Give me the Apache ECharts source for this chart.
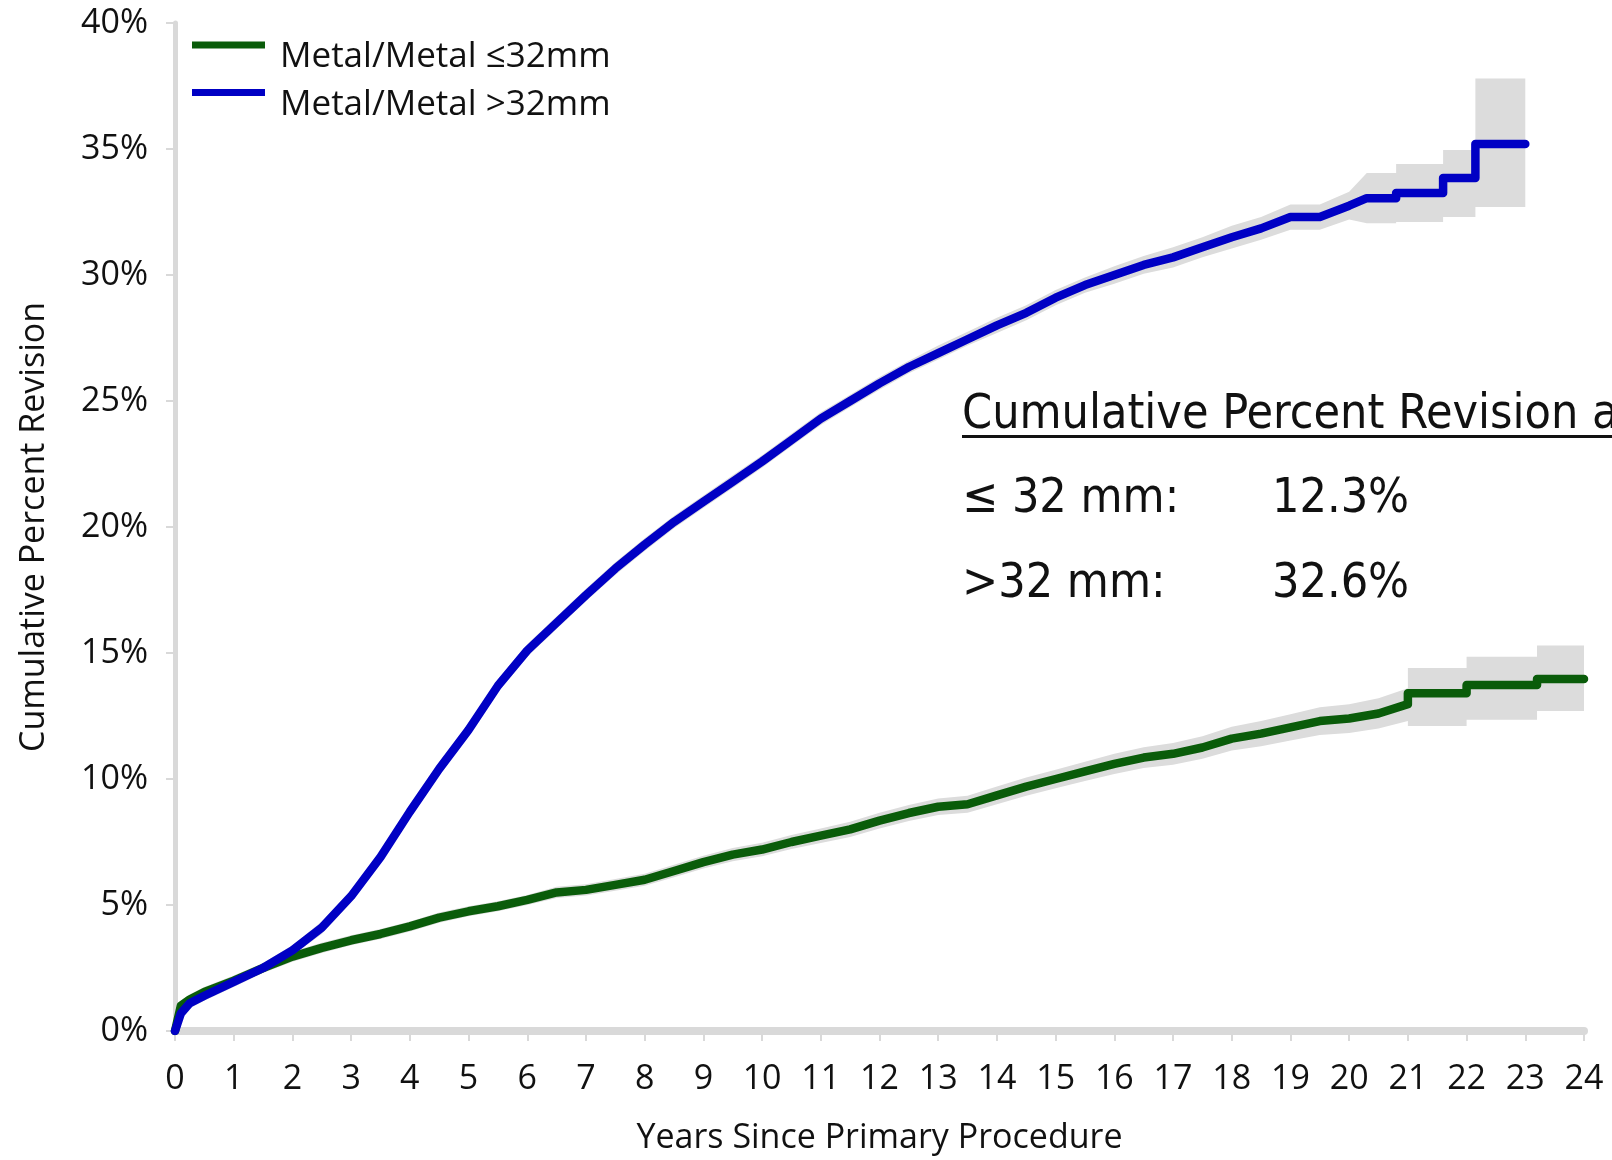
<!DOCTYPE html>
<html>
<head>
<meta charset="utf-8">
<script src="https://cdn.jsdelivr.net/npm/echarts@6/dist/echarts.min.js"></script>
<style>html,body{margin:0;padding:0;background:#fff}#c{width:1612px;height:1160px}</style>
</head>
<body>
<div id="c"></div>
<script>
// ---- data ----
const xTicks = [0,1,2,3,4,5,6,7,8,9,10,11,12,13,14,15,16,17,18,19,20,21,22,23,24];
const yTicks = [0,5,10,15,20,25,30,35,40];
const seriesNames = ['Metal/Metal \u226432mm', 'Metal/Metal >32mm'];

// Metal/Metal <=32mm : years, cumulative percent revision, 95% CI lower, upper
const smallYears = [0,0.1,0.25,0.5,1,1.5,2,2.5,3,3.5,4,4.5,5,5.5,6,6.5,7,7.5,8,8.5,9,9.5,10,10.5,11,11.5,12,12.5,13,13.5,14,14.5,15,15.5,16,16.5,17,17.5,18,18.5,19,19.5,20,20.5,21.0,21.0,22.0,22.0,23.2,23.2,24.0];
const smallCPR   = [0,1.0,1.25,1.55,2.0,2.5,2.95,3.3,3.6,3.85,4.15,4.5,4.75,4.95,5.2,5.5,5.6,5.8,6.0,6.35,6.7,7.0,7.2,7.5,7.75,8.0,8.35,8.65,8.9,9.0,9.35,9.7,10.0,10.3,10.6,10.85,11.0,11.25,11.6,11.8,12.05,12.3,12.4,12.6,12.97,13.4,13.4,13.73,13.73,13.97,13.97];
const smallLo    = [0,0.8,1.05,1.35,1.8,2.3,2.75,3.1,3.4,3.65,3.95,4.3,4.55,4.75,5.0,5.28,5.38,5.57,5.76,6.1,6.45,6.74,6.93,7.22,7.46,7.7,8.04,8.33,8.57,8.66,9.0,9.34,9.63,9.92,10.2,10.44,10.57,10.8,11.13,11.3,11.53,11.75,11.83,12.0,12.3,12.1,12.1,12.35,12.35,12.7,12.7];
const smallHi    = [0,1.2,1.45,1.75,2.2,2.7,3.15,3.5,3.8,4.05,4.35,4.7,4.95,5.15,5.4,5.72,5.82,6.03,6.24,6.6,6.95,7.26,7.47,7.78,8.04,8.3,8.66,8.97,9.23,9.34,9.7,10.06,10.37,10.68,11.0,11.26,11.43,11.7,12.07,12.3,12.57,12.85,12.97,13.2,13.6,14.4,14.4,14.85,14.85,15.3,15.3];

// Metal/Metal >32mm
const largeYears = [0,0.1,0.25,0.5,1,1.5,2,2.5,3,3.5,4,4.5,5,5.5,6,6.5,7,7.5,8,8.5,9,9.5,10,10.5,11,11.5,12,12.5,13,13.5,14,14.5,15,15.5,16,16.5,17,17.5,18,18.5,19,19.5,20,20.3,20.8,20.8,21.6,21.6,22.15,22.15,23.0];
const largeCPR   = [0,0.7,1.1,1.4,1.95,2.5,3.2,4.1,5.35,6.9,8.7,10.4,11.95,13.7,15.1,16.2,17.3,18.35,19.3,20.2,21.0,21.8,22.6,23.45,24.3,25.0,25.7,26.35,26.9,27.45,28.0,28.5,29.1,29.6,30.0,30.4,30.7,31.1,31.5,31.85,32.3,32.3,32.75,33.05,33.05,33.25,33.25,33.85,33.85,35.2,35.2];
const largeLo    = [0,0.5,0.9,1.2,1.75,2.3,3.0,3.85,5.1,6.65,8.45,10.15,11.7,13.45,14.85,15.95,17.05,18.1,19.05,19.95,20.75,21.55,22.35,23.2,24.05,24.75,25.45,26.1,26.65,27.2,27.7,28.2,28.8,29.3,29.65,30.05,30.3,30.7,31.05,31.4,31.8,31.8,32.2,32.05,32.05,32.1,32.1,32.3,32.3,32.7,32.7];
const largeHi    = [0,0.9,1.3,1.6,2.15,2.7,3.4,4.35,5.6,7.15,8.95,10.65,12.2,13.95,15.35,16.45,17.55,18.6,19.55,20.45,21.25,22.05,22.85,23.7,24.55,25.25,25.95,26.6,27.2,27.75,28.3,28.8,29.4,29.9,30.35,30.75,31.1,31.5,31.95,32.3,32.8,32.8,33.3,34.05,34.05,34.4,34.4,34.96,34.96,37.8,37.8];

// annotation texts
const noteTitle = 'Cumulative Percent Revision at 20 Years';
const noteRows = [['\u2264 32 mm:', '12.3%'], ['>32 mm:', '32.6%']];

// ---- chart ----
const FONT = "'Open Sans', 'Noto Sans', sans-serif";
const NOTE_FONT = "'DejaVu Sans Condensed', 'DejaVu Sans', sans-serif";
const GREEN = '#0a5c0a';
const BLUE = '#0000c4';
const BAND = '#dcdcdc';
const AXIS = '#d9d9d9';
// legend swatch: a 73x7 bar sitting at the top of a 73x32 icon box
const LEGEND_ICON = 'path://M0,0H73V7H0Z M0,32H0.01';

function pairs(xs, ys) { return xs.map((x, i) => [x, ys[i]]); }

function bandSeries(xs, lo, hi, z) {
  return {
    type: 'custom',
    z: z,
    silent: true,
    data: [[xs[0], lo[0]]],
    renderItem: function (params, api) {
      const pts = [];
      for (let i = 0; i < xs.length; i++) pts.push(api.coord([xs[i], hi[i]]));
      for (let i = xs.length - 1; i >= 0; i--) pts.push(api.coord([xs[i], lo[i]]));
      return { type: 'polygon', shape: { points: pts }, style: { fill: BAND } };
    }
  };
}

const chart = echarts.init(document.getElementById('c'), null, { renderer: 'canvas' });
chart.setOption({
  animation: false,
  backgroundColor: '#ffffff',
  textStyle: { fontFamily: FONT },
  grid: { left: 175, right: 28, top: 23, bottom: 129, containLabel: false, outerBoundsMode: 'none' },
  legend: {
    left: 192, top: 40, orient: 'vertical', padding: 0, itemGap: 12.5,
    icon: LEGEND_ICON, itemWidth: 73, itemHeight: 32, symbolKeepAspect: false,
    data: seriesNames,
    textStyle: { fontFamily: FONT, fontSize: 35, color: '#111', lineHeight: 32, padding: [0, 0, 0, 10] }
  },
  xAxis: {
    type: 'value', min: 0, max: 24, interval: 1, offset: 4,
    name: 'Years Since Primary Procedure', nameLocation: 'middle', nameGap: 86,
    nameTextStyle: { fontFamily: FONT, fontSize: 34, color: '#111' },
    axisLine: { show: true, lineStyle: { color: AXIS, width: 8 } },
    axisTick: { show: true, length: 10, lineStyle: { color: AXIS, width: 2 } },
    axisLabel: { fontFamily: FONT, fontSize: 34, color: '#111', margin: 27 },
    splitLine: { show: false }
  },
  yAxis: {
    type: 'value', min: 0, max: 40, interval: 5, offset: 6,
    name: 'Cumulative Percent Revision', nameLocation: 'middle', nameGap: 118, nameRotate: 90,
    nameTextStyle: { fontFamily: FONT, fontSize: 34, color: '#111' },
    axisLine: { show: true, lineStyle: { color: AXIS, width: 5 } },
    axisTick: { show: true, length: 9, lineStyle: { color: AXIS, width: 2 } },
    axisLabel: { fontFamily: FONT, fontSize: 34, color: '#111', margin: 21, formatter: '{value}%' },
    splitLine: { show: false }
  },
  series: [
    bandSeries(smallYears, smallLo, smallHi, 1),
    bandSeries(largeYears, largeLo, largeHi, 1),
    {
      name: seriesNames[0], type: 'line', z: 3, symbol: 'none', showSymbol: false,
      data: pairs(smallYears, smallCPR), color: GREEN,
      lineStyle: { color: GREEN, width: 8.5, cap: 'round', join: 'round' }
    },
    {
      name: seriesNames[1], type: 'line', z: 4, symbol: 'none', showSymbol: false,
      data: pairs(largeYears, largeCPR), color: BLUE,
      lineStyle: { color: BLUE, width: 8.5, cap: 'round', join: 'round' }
    }
  ],
  graphic: [
    { type: 'text', x: 962, y: 416, z: 10,
      style: { text: noteTitle, fontFamily: NOTE_FONT, fontSize: 48, fill: '#111', verticalAlign: 'middle' } },
    { type: 'rect', left: 962, top: 435, z: 10, shape: { width: 700, height: 3 }, style: { fill: '#111' } },
    { type: 'text', x: 962, y: 500, z: 10, style: { text: noteRows[0][0], fontFamily: NOTE_FONT, fontSize: 48, fill: '#111', verticalAlign: 'middle' } },
    { type: 'text', x: 1272, y: 500, z: 10, style: { text: noteRows[0][1], fontFamily: NOTE_FONT, fontSize: 48, fill: '#111', verticalAlign: 'middle' } },
    { type: 'text', x: 962, y: 585, z: 10, style: { text: noteRows[1][0], fontFamily: NOTE_FONT, fontSize: 48, fill: '#111', verticalAlign: 'middle' } },
    { type: 'text', x: 1272, y: 585, z: 10, style: { text: noteRows[1][1], fontFamily: NOTE_FONT, fontSize: 48, fill: '#111', verticalAlign: 'middle' } }
  ]
});
</script>
</body>
</html>
